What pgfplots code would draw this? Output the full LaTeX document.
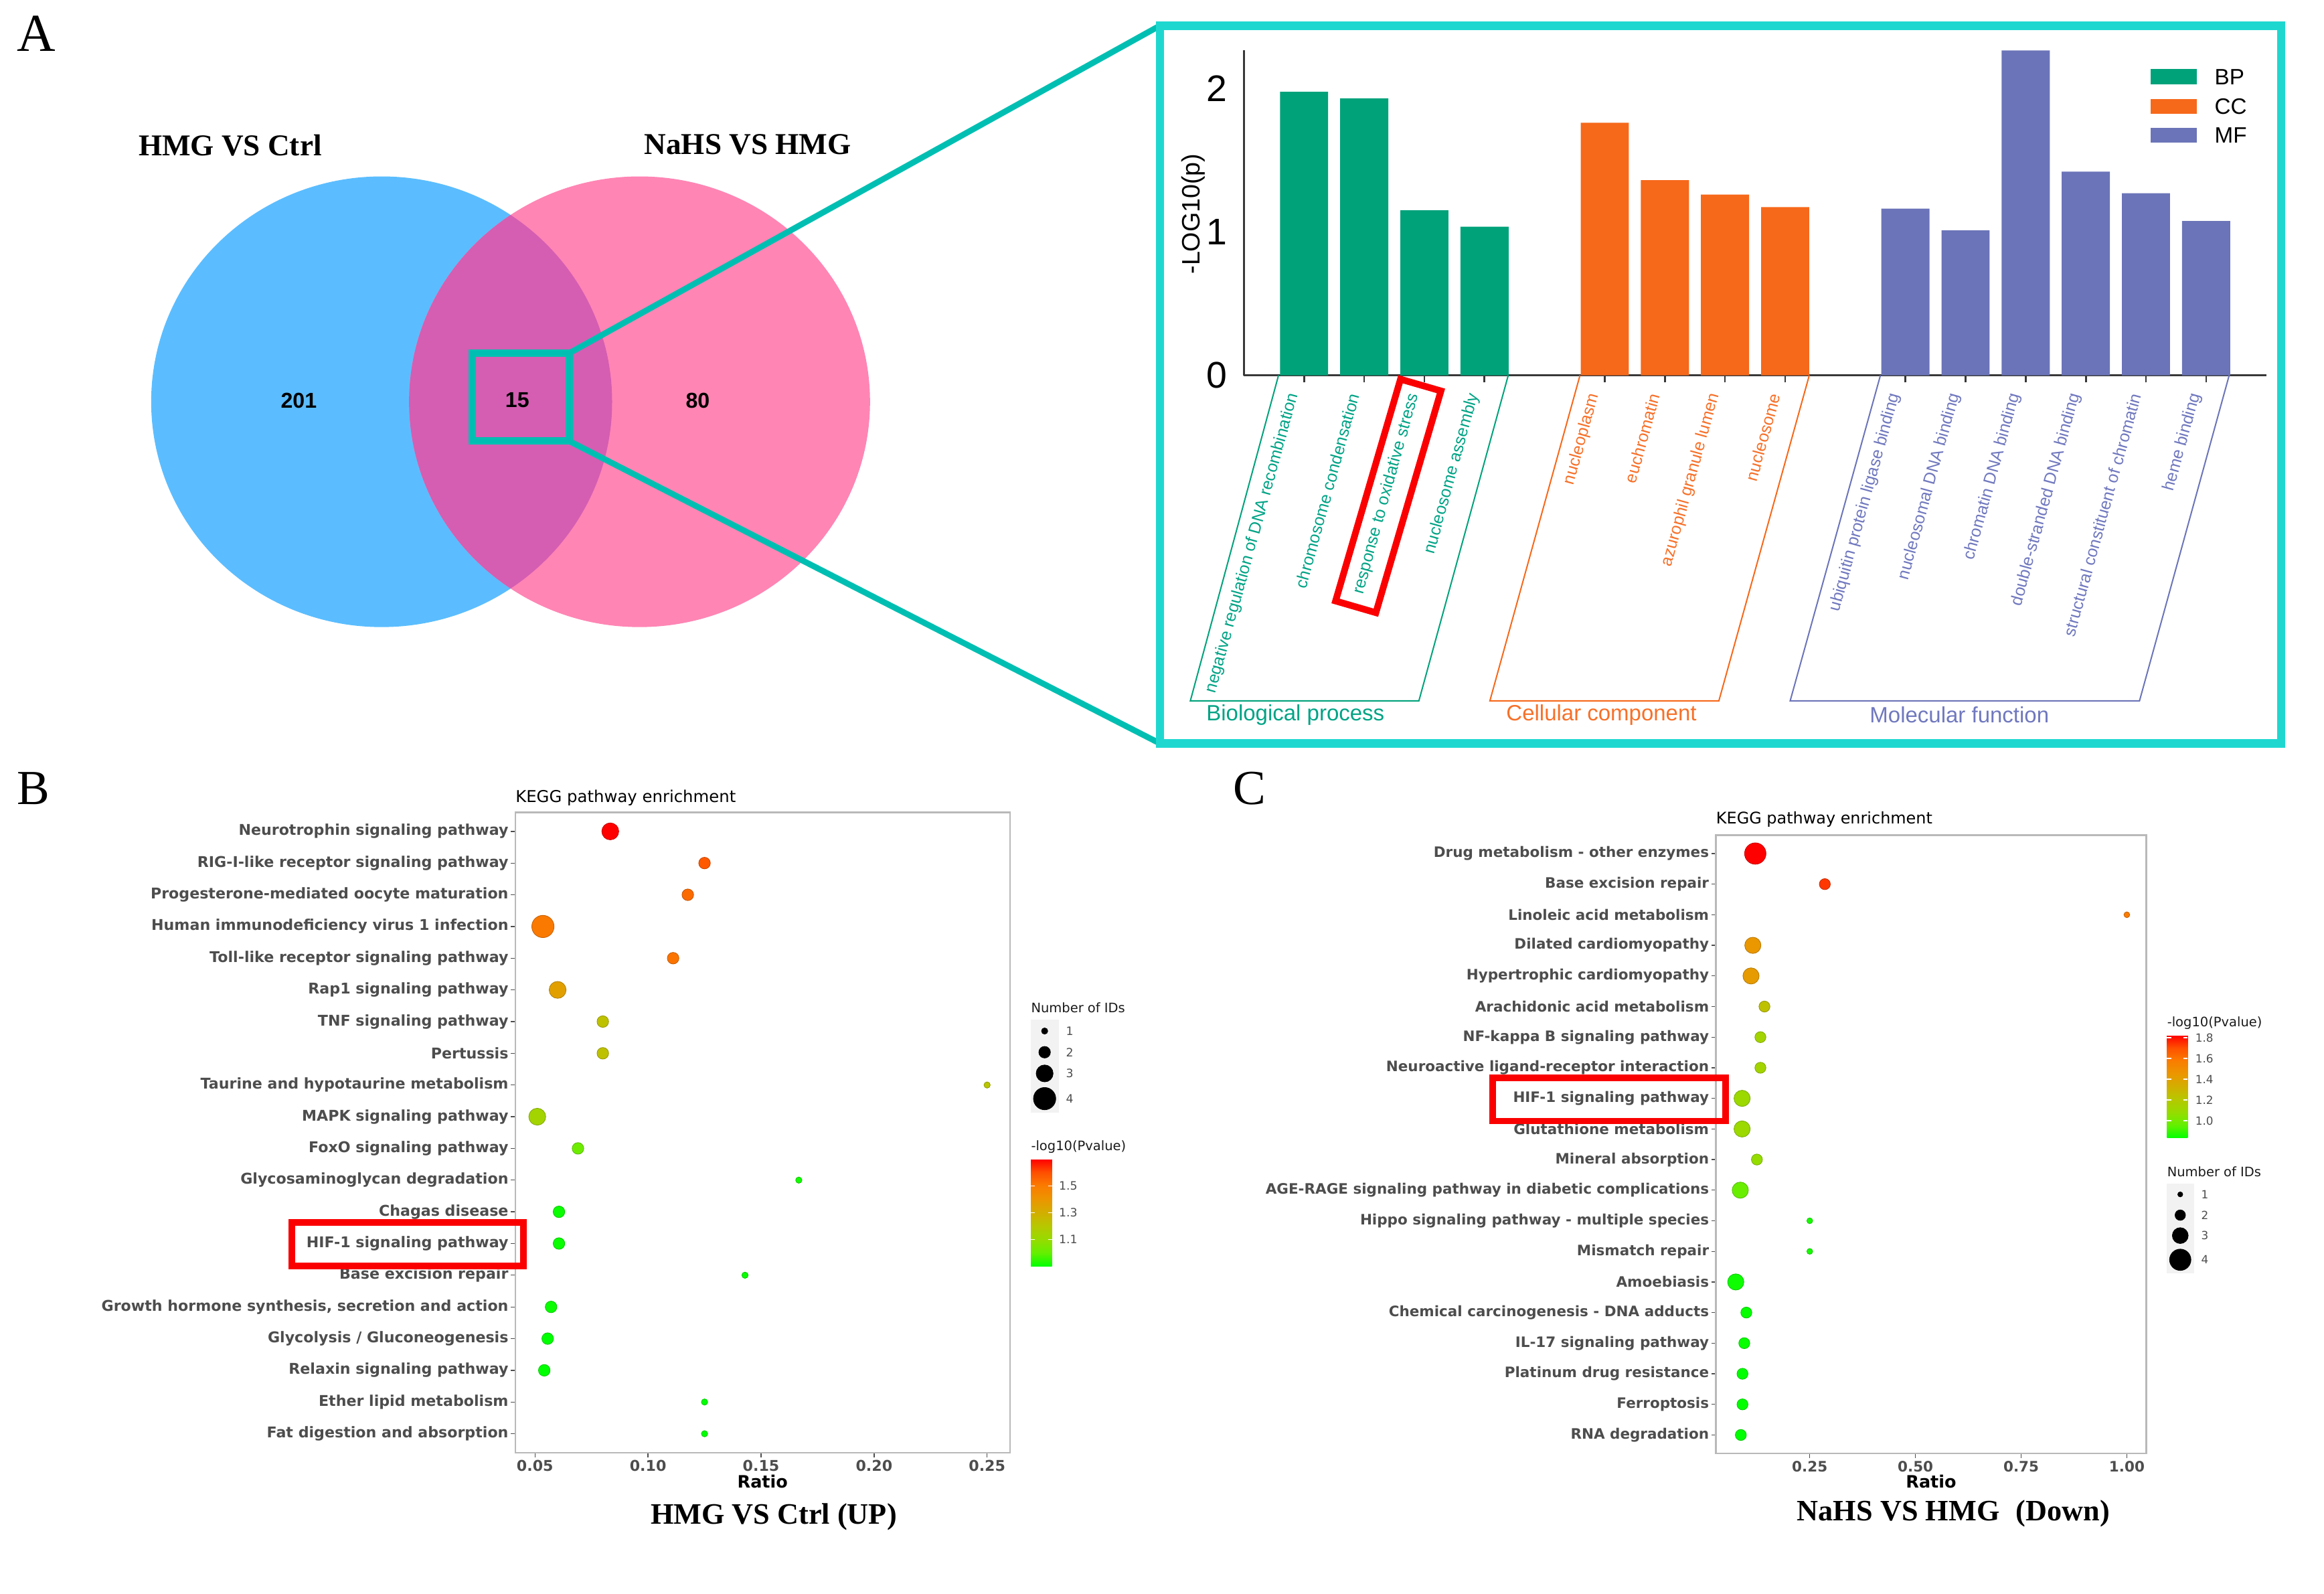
\documentclass[border=0pt]{standalone}
\usepackage{fontspec}
\setmainfont{Liberation Serif}
\newfontfamily\arial{Liberation Sans}
\newfontfamily\djv{DejaVu Sans}
\usepackage{pgfplots}
\pgfplotsset{compat=1.18}
\pgfplotsset{/pgf/number format/assume math mode=true}
\newcommand\fs[1]{\fontsize{#1}{#1}\selectfont}
\definecolor{bpc}{RGB}{0,162,122}
\definecolor{ccc}{RGB}{246,104,26}
\definecolor{mfc}{RGB}{107,116,184}
\definecolor{bpt}{RGB}{0,163,133}
\definecolor{cct}{RGB}{247,112,40}
\definecolor{mft}{RGB}{112,120,190}
\definecolor{vblue}{RGB}{91,189,255}
\definecolor{vpink}{RGB}{255,133,180}
\definecolor{vover}{RGB}{213,94,178}
\definecolor{teal1}{RGB}{0,191,178}
\definecolor{frame1}{RGB}{30,216,208}
\definecolor{g30}{RGB}{77,77,77}
\definecolor{g10}{RGB}{26,26,26}
\definecolor{keybg}{RGB}{242,242,242}
\definecolor{redbox}{RGB}{250,0,0}
\pgfplotsset{colormap={kegg}{rgb255(0cm)=(0,255,0) rgb255(1cm)=(100,240,0) rgb255(2cm)=(150,220,0) rgb255(3cm)=(182,200,0) rgb255(4cm)=(210,175,0) rgb255(5cm)=(235,150,0) rgb255(6cm)=(250,125,0) rgb255(7cm)=(255,80,0) rgb255(8cm)=(255,0,0)}}
\begin{document}
\begin{tikzpicture}
%================ A: GO bar chart =================
\begin{axis}[
  at={(839.3pt,-253.2pt)}, anchor=south west,
  scale only axis, width=689.7pt, height=219.3pt,
  xmin=-1, xmax=16, ymin=0, ymax=2.265,
  axis x line*=bottom, axis y line*=left,
  axis line style={line width=1.2pt, draw=black!78},
  ytick={0,1,2}, ytick style={draw=none},
  yticklabel style={font=\arial\fs{25}, inner sep=0pt, xshift=-6.5pt, text=black},
  xtick={0,1,2,3,5,6,7,8,10,11,12,13,14,15},
  xticklabels={
    \textcolor{bpt}{negative regulation of DNA recombination},
    \textcolor{bpt}{chromosome condensation},
    \textcolor{bpt}{response to oxidative stress},
    \textcolor{bpt}{nucleosome assembly},
    \textcolor{cct}{nucleoplasm},
    \textcolor{cct}{euchromatin},
    \textcolor{cct}{azurophil granule lumen},
    \textcolor{cct}{nucleosome},
    \textcolor{mft}{ubiquitin protein ligase binding},
    \textcolor{mft}{nucleosomal DNA binding},
    \textcolor{mft}{chromatin DNA binding},
    \textcolor{mft}{double-stranded DNA binding},
    \textcolor{mft}{structural constituent of chromatin},
    \textcolor{mft}{heme binding}},
  xtick style={line width=1.2pt, draw=black!78},
  tick align=outside, major tick length=4.8pt,
  xticklabel style={font=\arial\fs{11.3}, rotate=74.5, anchor=east, inner sep=0pt, xshift=-9pt, yshift=4.6pt},
  clip=false,
]
\addplot[ybar, bar width=0.8, bar shift=0pt, fill=bpc, draw=none] coordinates {(0,1.975) (1,1.930) (2,1.150) (3,1.036)};
\addplot[ybar, bar width=0.8, bar shift=0pt, fill=ccc, draw=none] coordinates {(5,1.760) (6,1.360) (7,1.260) (8,1.172)};
\addplot[ybar, bar width=0.8, bar shift=0pt, fill=mfc, draw=none] coordinates {(10,1.162) (11,1.010) (12,2.263) (13,1.419) (14,1.269) (15,1.075)};
\end{axis}
%================ B: KEGG dot plot =================
\begin{axis}[
  at={(347.7pt,-980pt)}, anchor=south west,
  scale only axis, width=333.7pt, height=432pt,
  xmin=0.0413, xmax=0.2601, ymin=0.4, ymax=20.6,
  xtick={0.05,0.1,0.15,0.2,0.25}, xticklabels={0.05,0.10,0.15,0.20,0.25},
  ytick={1,...,20},
  yticklabels={Fat digestion and absorption, Ether lipid metabolism, Relaxin signaling pathway, Glycolysis / Gluconeogenesis, {Growth hormone synthesis, secretion and action}, Base excision repair, HIF-1 signaling pathway, Chagas disease, Glycosaminoglycan degradation, FoxO signaling pathway, MAPK signaling pathway, Taurine and hypotaurine metabolism, Pertussis, TNF signaling pathway, Rap1 signaling pathway, Toll-like receptor signaling pathway, Human immunodeficiency virus 1 infection, Progesterone-mediated oocyte maturation, RIG-I-like receptor signaling pathway, Neurotrophin signaling pathway},
  tick pos=left, tick align=outside, major tick length=3pt,
  tick style={draw=g30, line width=0.6pt},
  axis line style={draw=gray!55, line width=1pt},
  ticklabel style={font=\djv\bfseries\fs{10}, text=g30},
  xticklabel style={inner sep=0pt, yshift=-2pt},
  yticklabel style={inner sep=0pt, xshift=-1.5pt},
  colormap name=kegg, point meta min=0.90, point meta max=1.70,
  colorbar,
  colorbar shift/.style={xshift=14.1pt, yshift=125.7pt},
  colorbar style={at={(parent axis.south east)}, anchor=south west,
    scale only axis, width=14.3pt, height=72.3pt,
    ytick={1.1,1.3,1.5}, ytick pos=both, yticklabel pos=right,
    ytick style={draw=white, line width=0.6pt}, major tick length=2.8pt, tick align=inside,
    axis line style={draw=none},
    yticklabel style={font=\djv\mdseries\fs{7.8}, text=g30, inner sep=0pt, anchor=west, xshift=4.5pt, /pgf/number format/.cd, fixed, fixed zerofill, precision=1}},
]
\addplot[scatter, only marks, mark=*, scatter src=explicit,
  visualization depends on={\thisrow{n} \as \nid},
  scatter/@pre marker code/.append style={/tikz/mark size=1.8*\nid+0.3}]
  table[x=ratio, y=row, meta=logp] {
row ratio n logp
20 0.0833 3 1.70
19 0.1250 2 1.58
18 0.1176 2 1.54
17 0.0535 4 1.51
16 0.1111 2 1.52
15 0.0600 3 1.36
14 0.0800 2 1.23
13 0.0800 2 1.23
12 0.2500 1 1.21
11 0.0510 3 1.14
10 0.0690 2 1.02
9 0.1667 1 0.92
8 0.0606 2 0.91
7 0.0606 2 0.91
6 0.1429 1 0.91
5 0.0571 2 0.91
4 0.0556 2 0.90
3 0.0541 2 0.90
2 0.1250 1 0.90
1 0.1250 1 0.90
};
\end{axis}
%================ C: KEGG dot plot =================
\begin{axis}[
  at={(1157.7pt,-980.4pt)}, anchor=south west,
  scale only axis, width=290.4pt, height=417pt,
  xmin=0.028, xmax=1.046, ymin=0.4, ymax=20.6,
  xtick={0.25,0.5,0.75,1}, xticklabels={0.25,0.50,0.75,1.00},
  ytick={1,...,20},
  yticklabels={RNA degradation, Ferroptosis, Platinum drug resistance, IL-17 signaling pathway, Chemical carcinogenesis - DNA adducts, Amoebiasis, Mismatch repair, Hippo signaling pathway - multiple species, AGE-RAGE signaling pathway in diabetic complications, Mineral absorption, Glutathione metabolism, HIF-1 signaling pathway, Neuroactive ligand-receptor interaction, NF-kappa B signaling pathway, Arachidonic acid metabolism, Hypertrophic cardiomyopathy, Dilated cardiomyopathy, Linoleic acid metabolism, Base excision repair, Drug metabolism - other enzymes},
  tick pos=left, tick align=outside, major tick length=3pt,
  tick style={draw=g30, line width=0.6pt},
  axis line style={draw=gray!55, line width=1pt},
  ticklabel style={font=\djv\bfseries\fs{9.7}, text=g30},
  xticklabel style={inner sep=0pt, yshift=-2pt},
  yticklabel style={inner sep=0pt, xshift=-1.5pt},
  colormap name=kegg, point meta min=0.833, point meta max=1.826,
  colorbar,
  colorbar shift/.style={xshift=13.9pt, yshift=212.7pt},
  colorbar style={at={(parent axis.south east)}, anchor=south west,
    scale only axis, width=14pt, height=69.5pt,
    ytick={1.0,1.2,1.4,1.6,1.8}, ytick pos=both, yticklabel pos=right,
    ytick style={draw=white, line width=0.6pt}, major tick length=2.8pt, tick align=inside,
    axis line style={draw=none},
    yticklabel style={font=\djv\mdseries\fs{7.6}, text=g30, inner sep=0pt, anchor=west, xshift=5pt, /pgf/number format/.cd, fixed, fixed zerofill, precision=1}},
]
\addplot[scatter, only marks, mark=*, scatter src=explicit,
  visualization depends on={\thisrow{n} \as \nid},
  scatter/@pre marker code/.append style={/tikz/mark size=1.75*\nid+0.2}]
  table[x=ratio, y=row, meta=logp] {
row ratio n logp
20 0.1212 4 1.826
19 0.2857 2 1.74
18 1.0000 1 1.58
17 0.1154 3 1.45
16 0.1111 3 1.43
15 0.1429 2 1.24
14 0.1333 2 1.13
13 0.1333 2 1.13
12 0.0900 3 1.10
11 0.0900 3 1.10
10 0.1250 2 1.08
9 0.0857 3 0.97
8 0.2500 1 0.86
7 0.2500 1 0.86
6 0.0750 3 0.85
5 0.1000 2 0.84
4 0.0952 2 0.84
3 0.0909 2 0.835
2 0.0909 2 0.835
1 0.0870 2 0.833
};
\end{axis}
%================ canvas: Venn, frames, legends, texts =================
\begin{axis}[at={(0pt,0pt)}, anchor=north west, scale only axis, width=1568pt, height=1075pt,
  xmin=0, xmax=1568, ymin=0, ymax=1075, y dir=reverse, hide axis, clip=false]
% Venn
\fill[vblue] (257.5,271) ellipse [x radius=155.5, y radius=152];
\fill[vpink] (431.5,271) ellipse [x radius=155.5, y radius=152];
\begin{scope}
\clip (257.5,271) ellipse [x radius=155.5, y radius=152];
\fill[vover] (431.5,271) ellipse [x radius=155.5, y radius=152];
\end{scope}
\node[anchor=base, font=\bfseries\fs{20.4}] at (155.3,105.1) {HMG VS Ctrl};
\node[anchor=base, font=\bfseries\fs{20.4}] at (504.5,103.9) {NaHS VS HMG};
\node[anchor=base, font=\arial\bfseries\fs{14.5}] at (201.6,275.2) {201};
\node[anchor=base, font=\arial\bfseries\fs{14.5}] at (349,274.7) {15};
\node[anchor=base, font=\arial\bfseries\fs{14.5}] at (470.8,275.2) {80};
% zoom square and connectors
\draw[teal1, line width=5pt] (318.6,238.3) rectangle (383.9,297.5);
\draw[teal1, line width=4pt] (383.9,238.3) -- (782.6,17.3);
\draw[teal1, line width=4pt] (383.9,297.5) -- (782.6,501.5);
\draw[frame1, line width=5.7pt] (782.6,17.3) rectangle (1539,501.5);
% bar chart extras
\node[rotate=90, font=\arial\fs{17}] at (805,144.3) {-LOG10(p)};
\fill[bpc] (1451,46.5) rectangle (1482,57);
\fill[ccc] (1451,66.7) rectangle (1482,76.7);
\fill[mfc] (1451,86.3) rectangle (1482,96.3);
\node[anchor=west, inner sep=0pt, font=\arial\fs{15}] at (1494,51.8) {BP};
\node[anchor=west, inner sep=0pt, font=\arial\fs{15}] at (1494,71.7) {CC};
\node[anchor=west, inner sep=0pt, font=\arial\fs{15}] at (1494,91.3) {MF};
\draw[bpc, line width=0.9pt] (862.6,253.2) -- (803.1,472.8) -- (957.3,472.8) -- (1017.6,253.2);
\draw[ccc, line width=0.9pt] (1066,253.2) -- (1005.2,472.8) -- (1159.7,472.8) -- (1220.7,253.2);
\draw[mfc, line width=0.9pt] (1268.7,253.2) -- (1207.8,472.8) -- (1443.5,472.8) -- (1504,253.2);
\node[font=\arial\fs{14.9}, text=bpt] at (874,482.3) {Biological process};
\node[font=\arial\fs{14.9}, text=cct] at (1080.5,482.3) {Cellular component};
\node[font=\arial\fs{14.9}, text=mft] at (1322,482.3) {Molecular function};
\draw[redbox, line width=4.5pt, line join=miter] (944.9,255.8) -- (972.2,263.7) -- (928.3,413.3) -- (901.1,405.4) -- cycle;
% panel letters
\node[anchor=base, font=\fs{36}] at (24.3,34.6) {A};
\node[anchor=base, font=\fs{33}] at (22.3,542.7) {B};
\node[anchor=base, font=\fs{33}] at (843,542.7) {C};
% B extras
\node[anchor=west, inner sep=0pt, font=\djv\fs{11}] at (347.7,538) {KEGG pathway enrichment};
\node[font=\djv\bfseries\fs{11.5}] at (514.5,999.5) {Ratio};
\node[anchor=base, font=\bfseries\fs{20}] at (522,1028) {HMG VS Ctrl (UP)};
\node[anchor=west, inner sep=0pt, font=\djv\fs{8.8}, text=g10] at (695.5,679.7) {Number of IDs};
\node[anchor=west, inner sep=0pt, font=\djv\fs{8.8}, text=g10] at (695.5,773.8) {-log10(Pvalue)};
\fill[keybg] (695.5,688) rectangle (714.3,750.4);
\addplot[scatter, only marks, mark=*, scatter/use mapped color={draw=black, fill=black},
  visualization depends on={\thisrow{n} \as \nid},
  scatter/@pre marker code/.append style={/tikz/mark size=1.8*\nid+0.3}]
  table[x=x, y=y] {
x y n
704.8 695.5 1
704.8 709.8 2
704.8 724.1 3
704.8 741.1 4
};
\node[anchor=west, inner sep=0pt, font=\djv\fs{7.8}, text=g30] at (719,695.5) {1};
\node[anchor=west, inner sep=0pt, font=\djv\fs{7.8}, text=g30] at (719,709.8) {2};
\node[anchor=west, inner sep=0pt, font=\djv\fs{7.8}, text=g30] at (719,724.1) {3};
\node[anchor=west, inner sep=0pt, font=\djv\fs{7.8}, text=g30] at (719,741.1) {4};
\draw[redbox, line width=4.5pt] (197,824.5) rectangle (353,854.1);
% C extras
\node[anchor=west, inner sep=0pt, font=\djv\fs{10.8}] at (1157.7,552.9) {KEGG pathway enrichment};
\node[font=\djv\bfseries\fs{11.5}] at (1302.9,999.5) {Ratio};
\node[anchor=base, font=\bfseries\fs{20}] at (1318,1025.9) {NaHS VS HMG\hspace{0.55em}(Down)};
\node[anchor=west, inner sep=0pt, font=\djv\fs{8.8}, text=g10] at (1462,690) {-log10(Pvalue)};
\node[anchor=west, inner sep=0pt, font=\djv\fs{8.8}, text=g10] at (1462,790.3) {Number of IDs};
\fill[keybg] (1462,798.5) rectangle (1480.5,859);
\addplot[scatter, only marks, mark=*, scatter/use mapped color={draw=black, fill=black},
  visualization depends on={\thisrow{n} \as \nid},
  scatter/@pre marker code/.append style={/tikz/mark size=1.83*\nid-0.15}]
  table[x=x, y=y] {
x y n
1471 805.7 1
1471 819.7 2
1471 833.5 3
1471 849.8 4
};
\node[anchor=west, inner sep=0pt, font=\djv\fs{7.6}, text=g30] at (1485,805.7) {1};
\node[anchor=west, inner sep=0pt, font=\djv\fs{7.6}, text=g30] at (1485,819.7) {2};
\node[anchor=west, inner sep=0pt, font=\djv\fs{7.6}, text=g30] at (1485,833.5) {3};
\node[anchor=west, inner sep=0pt, font=\djv\fs{7.6}, text=g30] at (1485,849.8) {4};
\draw[redbox, line width=4.5pt] (1007.2,727) rectangle (1164.2,756.2);
\end{axis}
\pgfresetboundingbox
\path[use as bounding box] (0pt,0pt) rectangle (1568pt,-1075pt);
\end{tikzpicture}
\end{document}
